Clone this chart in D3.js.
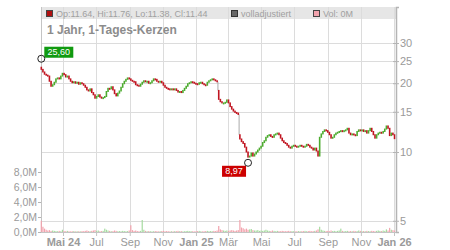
<!DOCTYPE html>
<html>
<head>
<meta charset="utf-8">
<script src="https://cdn.jsdelivr.net/npm/d3@7"></script>
<style>
body{margin:0;background:#fff}
svg{display:block;font-family:"Liberation Sans",Arial,sans-serif}
</style>
</head>
<body>
<svg></svg>
<script>
// candle every 3 days, starting 22.03.2024
var startDate = new Date(2024,2,22);
var stepDays = 3;
var firstOpen = 23.5;

var closes = [
  23.0,22.4,21.9,21.7,21.5,20.4,19.4,19.7,20.2,20.9,
  21.1,20.9,21.5,22.1,21.8,21.3,21.5,20.9,20.4,20.1,
  20.3,20.0,20.2,19.8,20.1,19.9,19.6,19.2,18.7,18.5,
  18.9,18.2,17.8,17.2,17.5,17.8,17.4,17.2,17.3,17.5,
  18.4,19.0,18.9,19.3,18.7,18.0,17.6,18.1,18.5,19.2,
  19.9,20.4,20.8,21.1,20.9,20.6,20.4,20.3,19.7,19.6,
  19.4,19.8,20.2,20.5,20.3,20.4,20.0,20.1,20.5,20.9,
  20.8,20.4,20.3,20.4,20.1,19.6,19.2,19.0,18.9,18.8,
  18.9,18.7,18.9,18.6,18.3,18.4,18.2,18.6,19.0,19.4,
  19.9,20.1,20.3,20.2,20.0,19.9,19.8,20.1,20.2,19.9,
  19.7,19.6,20.2,20.5,20.7,20.9,20.7,20.5,20.3,17.0,
  16.6,16.4,16.4,16.5,16.9,16.4,15.8,15.4,15.1,14.9,
  14.8,14.6,11.4,11.1,10.9,10.5,10.0,9.5,9.6,9.9,
  9.6,9.8,10.0,10.2,10.4,10.6,11.0,11.2,11.6,11.8,
  11.9,11.7,11.6,11.9,12.0,12.1,11.9,11.5,11.2,11.0,
  10.9,10.7,10.5,10.4,10.6,10.7,10.6,10.5,10.6,10.7,
  10.6,10.5,10.6,10.8,10.7,10.5,10.4,10.2,10.4,10.1,
  9.6,11.6,12.0,12.3,12.5,12.4,12.2,11.9,11.5,11.6,
  11.9,12.1,12.2,12.3,12.4,12.3,12.4,12.5,12.7,12.1,
  11.9,12.0,11.9,11.8,12.3,12.5,12.4,12.5,12.3,12.4,
  12.1,12.4,12.7,12.3,11.9,11.5,11.9,12.1,12.2,12.1,
  12.3,12.6,13.0,12.7,11.8,12.1,11.9,11.44
];

// volume in millions
var volumes = [
  1.5,0.7,0.45,0.3,0.2,0.25,0.15,0.2,0.15,0.12,
  0.1,0.15,0.1,0.3,0.12,0.1,0.15,0.1,0.08,0.1,
  0.12,0.08,0.1,0.1,0.08,0.12,0.1,0.15,0.2,0.12,
  0.1,0.15,0.2,0.25,0.15,0.2,0.1,0.12,0.15,0.45,
  0.3,0.2,0.15,0.1,0.12,0.2,0.15,0.1,0.12,0.1,
  0.15,0.12,0.1,0.12,0.2,0.9,0.25,0.15,0.2,0.12,
  0.1,0.15,1.6,0.3,0.15,0.1,0.12,0.1,0.08,0.1,
  0.12,0.1,0.08,0.1,0.12,0.15,0.1,0.12,0.1,0.08,
  0.1,0.08,0.12,0.1,0.15,0.1,0.12,0.08,0.1,0.12,
  0.15,0.1,0.12,0.1,0.08,0.1,0.12,0.15,0.1,0.08,
  0.1,0.12,0.15,0.1,0.12,0.1,0.15,0.12,0.2,0.8,
  0.35,0.25,0.2,0.15,0.2,0.15,0.2,0.25,0.2,0.15,
  0.2,0.25,1.6,0.6,0.5,0.35,0.45,0.3,0.35,0.4,
  0.25,0.2,0.2,0.25,0.15,0.2,0.15,0.2,0.3,0.2,
  0.15,0.12,0.2,0.15,0.1,0.15,0.12,0.1,0.15,0.12,
  0.1,0.12,0.15,0.1,0.12,0.1,0.08,0.1,0.12,0.1,
  0.1,0.12,0.15,0.1,0.12,0.15,0.1,0.12,0.15,0.2,
  0.35,0.7,0.3,0.2,0.15,0.12,0.15,0.1,0.2,0.12,
  0.15,0.1,0.15,0.2,0.45,0.15,0.1,0.12,0.15,0.1,
  0.12,0.1,0.15,0.1,0.12,0.2,0.15,0.1,0.12,0.1,
  0.15,0.12,0.1,0.15,0.12,0.1,0.15,0.2,0.15,0.12,
  0.2,0.15,0.35,0.2,0.55,0.3,0.25,0.2
];

// days with an opening gap: index and open price
var gapIndex = [109,122];
var gapOpen = [18.6,11.9];

var priceTicks = [5,10,15,20,25,30];
var volTicks = [0,2,4,6,8];
var monthTicks = [new Date(2024,4,1),new Date(2024,6,1),new Date(2024,8,1),new Date(2024,10,1),
                  new Date(2025,0,1),new Date(2025,2,1),new Date(2025,4,1),new Date(2025,6,1),
                  new Date(2025,8,1),new Date(2025,10,1),new Date(2026,0,1)];
var monthTickLabels = ["Mai 24","Jul","Sep","Nov","Jan 25","Mär","Mai","Jul","Sep","Nov","Jan 26"];

var highMark = {index:0, value:25.60, label:"25,60"};
var lowMark = {index:127, value:8.97, label:"8,97"};
var legendOhlc = "Op:11.64, Hi:11.76, Lo:11.38, Cl:11.44";
var title = "1 Jahr, 1-Tages-Kerzen";

var drawChart = function()
{
  var screen = {width:450, height:250};
  var plot = {left:41, right:396, top:7, bottom:232};

  var svg = d3.select("svg")
              .attr("width",screen.width)
              .attr("height",screen.height);

  var candles = closes.map(function(c,i)
  {
    var g = gapIndex.indexOf(i);
    var prev = i==0 ? firstOpen : closes[i-1];
    return {
      date: d3.timeDay.offset(startDate,i*stepDays),
      prev: prev,
      open: g>=0 ? gapOpen[g] : prev,
      close: c,
      gap: g>=0,
      vol: volumes[i]
    };
  });

  var xScale = d3.scaleTime()
                 .domain([monthTicks[0],monthTicks[monthTicks.length-1]])
                 .range([63,394]);

  var yScale = d3.scaleLog()
                 .domain([10,30])
                 .range([152,43]);
  yScale.domain([yScale.invert(plot.bottom),yScale.invert(plot.top)])
        .range([plot.bottom,plot.top]);

  var volScale = d3.scaleLinear()
                   .domain([0,8])
                   .range([plot.bottom,172]);

  var grid = "#dcdcdc", textCol = "#9a9a9a";

  // legend band
  svg.append("rect")
     .attr("x",plot.left).attr("y",plot.top)
     .attr("width",plot.right-plot.left+1).attr("height",12)
     .attr("fill","#e6e6e6");

  // grid
  svg.append("g").selectAll("line")
     .data(monthTicks).enter().append("line")
     .attr("x1",function(d){return Math.round(xScale(d))+0.5})
     .attr("x2",function(d){return Math.round(xScale(d))+0.5})
     .attr("y1",plot.top).attr("y2",plot.bottom)
     .attr("stroke",grid);

  svg.append("g").selectAll("line")
     .data(priceTicks).enter().append("line")
     .attr("x1",plot.left).attr("x2",plot.right)
     .attr("y1",function(d){return Math.round(yScale(d))+0.5})
     .attr("y2",function(d){return Math.round(yScale(d))+0.5})
     .attr("stroke",grid);

  // frame
  svg.append("line")
     .attr("x1",plot.left+0.5).attr("x2",plot.left+0.5)
     .attr("y1",plot.top).attr("y2",plot.bottom)
     .attr("stroke","#c4c4c4");

  // volume bars
  svg.append("g").selectAll("rect")
     .data(candles).enter().append("rect")
     .attr("x",function(d){return xScale(d.date)-0.6})
     .attr("width",1.2)
     .attr("y",function(d){return volScale(d.vol)})
     .attr("height",function(d){return plot.bottom-volScale(d.vol)})
     .attr("fill",function(d){return d.close>=d.open ? "#a6dba0" : "#f2a3ad"});

  // gap connectors
  svg.append("g").selectAll("line")
     .data(candles.filter(function(d){return d.gap})).enter().append("line")
     .attr("x1",function(d){return xScale(d.date)-0.8})
     .attr("x2",function(d){return xScale(d.date)-0.8})
     .attr("y1",function(d){return yScale(d.prev)})
     .attr("y2",function(d){return yScale(d.open)})
     .attr("stroke","#aaaaaa").attr("stroke-width",1);

  // candles
  svg.append("g").selectAll("rect")
     .data(candles).enter().append("rect")
     .attr("x",function(d){return xScale(d.date)-0.8})
     .attr("width",1.6)
     .attr("y",function(d){return Math.min(yScale(d.open),yScale(d.close))-0.5})
     .attr("height",function(d){return Math.max(2,Math.abs(yScale(d.open)-yScale(d.close))+1)})
     .attr("fill",function(d){return d.close>=d.open ? "#4cab2e" : "#c01420"});

  // bottom axis
  var xAxis = d3.axisBottom(xScale)
                .tickValues(monthTicks)
                .tickFormat(function(d,i){return monthTickLabels[i]})
                .tickSize(4).tickPadding(2);
  var gx = svg.append("g")
              .attr("transform","translate(0,"+plot.bottom+")")
              .call(xAxis);
  gx.select(".domain").attr("d","M"+plot.left+",0.5H"+(plot.right+1)).attr("stroke","#c4c4c4");
  gx.selectAll(".tick line").attr("stroke","#c4c4c4");
  gx.selectAll("text")
    .attr("fill",textCol)
    .style("font-size","11px")
    .style("font-weight",function(d,i){return monthTickLabels[i].indexOf(" ")>0 ? "bold" : "normal"});

  // right price axis
  var yAxis = d3.axisRight(yScale)
                .tickValues(priceTicks)
                .tickFormat(d3.format("d"))
                .tickSize(3).tickPadding(1);
  var gy = svg.append("g")
              .attr("transform","translate("+plot.right+",0)")
              .call(yAxis);
  gy.select(".domain").attr("stroke","#b4b4b4").attr("stroke-width",1.5);
  gy.selectAll(".tick line").attr("x1",-3).attr("stroke","#b4b4b4");
  gy.selectAll("text").attr("fill",textCol).style("font-size","11px");

  // left volume axis
  var vAxis = d3.axisLeft(volScale)
                .tickValues(volTicks)
                .tickFormat(function(d){return d.toFixed(1).replace(".",",")+"M"})
                .tickSize(3).tickPadding(1);
  var gv = svg.append("g")
              .attr("transform","translate("+plot.left+",0)")
              .call(vAxis);
  gv.select(".domain").remove();
  gv.selectAll(".tick line").attr("stroke","#b4b4b4");
  gv.selectAll("text").attr("fill",textCol).style("font-size","10.5px");

  // legend line
  var legend = svg.append("g").style("font-size","9px");
  var items = [
    {x:46, fill:"#b01010", stroke:"#444", text:legendOhlc},
    {x:231, fill:"#666", stroke:"#333", text:"volladjustiert"},
    {x:313, fill:"#f2a3ad", stroke:"#444", text:"Vol: 0M"}
  ];
  legend.selectAll("rect").data(items).enter().append("rect")
        .attr("x",function(d){return d.x+0.5}).attr("y",10.5)
        .attr("width",6).attr("height",6)
        .attr("fill",function(d){return d.fill})
        .attr("stroke",function(d){return d.stroke});
  legend.selectAll("text").data(items).enter().append("text")
        .attr("x",function(d){return d.x+10}).attr("y",17)
        .attr("fill","#a0a0a0")
        .text(function(d){return d.text});

  // title
  svg.append("text")
     .attr("x",47).attr("y",34)
     .attr("fill","#8c8c8c")
     .style("font-size","12px").style("font-weight","bold")
     .text(title);

  // high / low markers
  var marks = [
    {m:highMark, fill:"#109a10", dx:3, dy:-12},
    {m:lowMark, fill:"#cc0000", dx:-26, dy:3}
  ];
  marks.forEach(function(k)
  {
    var cx = xScale(candles[k.m.index].date);
    var cy = yScale(k.m.value);
    var w = k.m.label.length*5 + 4;
    svg.append("rect")
       .attr("x",cx+k.dx).attr("y",cy+k.dy)
       .attr("width",w).attr("height",11)
       .attr("fill",k.fill);
    svg.append("text")
       .attr("x",cx+k.dx+w/2).attr("y",cy+k.dy+8.5)
       .attr("text-anchor","middle")
       .attr("fill","#fff")
       .style("font-size","9px")
       .text(k.m.label);
    svg.append("circle")
       .attr("cx",cx).attr("cy",cy).attr("r",3.5)
       .attr("fill","none").attr("stroke","#222").attr("stroke-width",1);
  });
}

drawChart();
</script>
</body>
</html>
